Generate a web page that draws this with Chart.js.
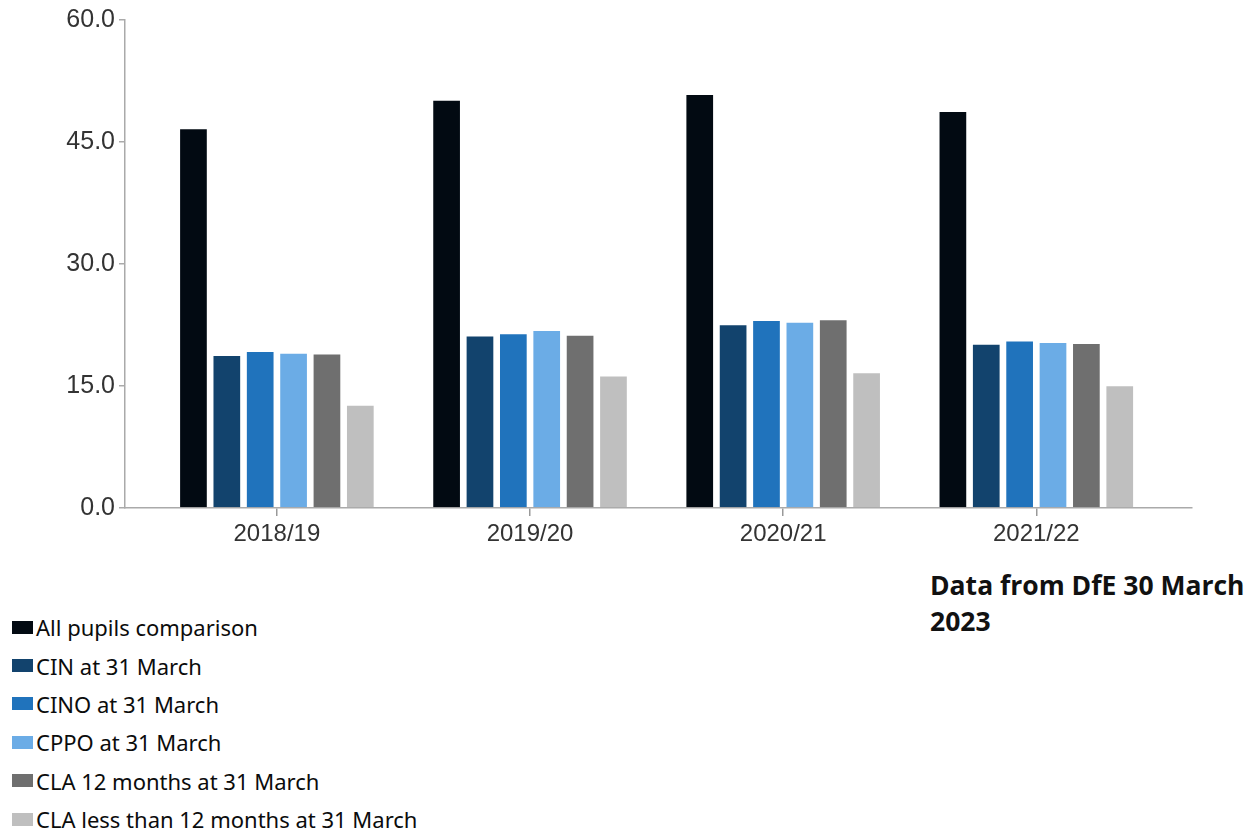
<!DOCTYPE html>
<html>
<head>
<meta charset="utf-8">
<script src="https://cdn.jsdelivr.net/npm/chart.js@4.4.1/dist/chart.umd.min.js"></script>
<style>
  html, body { margin: 0; padding: 0; background: #fff; }
  #wrap { position: relative; width: 1260px; height: 830px; overflow: hidden; }
  #chart-box { position: absolute; left: 0; top: 0; width: 1260px; height: 560px; }
  #legend { position: absolute; left: 0; top: 608px; font-family: "Noto Sans", sans-serif; font-size: 22px; color: #0b0c0c; }
  #legend .row { height: 38.4px; display: flex; align-items: center; white-space: nowrap; }
  #legend .box { width: 21px; height: 13px; margin-left: 12px; margin-right: 3px; }
  #note { position: absolute; left: 930px; top: 567px; font-family: "Open Sans", sans-serif; font-weight: bold; font-size: 26.5px; line-height: 36px; color: #111; }
</style>
</head>
<body>
<div id="wrap">
  <div id="chart-box"><canvas id="myChart"></canvas></div>
  <div id="legend"></div>
  <div id="note">Data from DfE 30 March<br>2023</div>
</div>
<script>
// school years on the x axis
const years = ["2018/19", "2019/20", "2020/21", "2021/22"];

const series_names = [
    "All pupils comparison",
    "CIN at 31 March",
    "CINO at 31 March",
    "CPPO at 31 March",
    "CLA 12 months at 31 March",
    "CLA less than 12 months at 31 March"
];

const all_pupils = [46.7, 50.2, 50.9, 48.8];
const cin = [18.8, 21.2, 22.6, 20.2];
const cino = [19.3, 21.5, 23.1, 20.6];
const cppo = [19.1, 21.9, 22.9, 20.4];
const cla_12 = [19.0, 21.3, 23.2, 20.3];
const cla_less = [12.7, 16.3, 16.7, 15.1];

const y_ticks = [0, 15, 30, 45, 60];

const colours = ["#020a12", "#12436d", "#2073bc", "#6bace6", "#6f6f6f", "#bfbfbf"];

const series_values = [all_pupils, cin, cino, cppo, cla_12, cla_less];

function toPoints(values) {
    return values.map(function (v, i) { return { x: i, y: v }; });
}

let datasets = [];
for (let i = 0; i < series_names.length; i++) {
    datasets.push({
        label: series_names[i],
        data: toPoints(series_values[i]),
        backgroundColor: colours[i],
        borderColor: "rgba(255,255,255,0.35)",
        borderWidth: 1,
        borderSkipped: "bottom"
    });
}

const xFont = { family: "'Liberation Sans', Arial, sans-serif", size: 24 };
const yFont = { family: "'Liberation Sans', Arial, sans-serif", size: 25 };

const ctx = document.getElementById("myChart").getContext("2d");
const myChart = new Chart(ctx, {
    type: "bar",
    data: { datasets: datasets },
    options: {
        responsive: true,
        maintainAspectRatio: false,
        animation: false,
        categoryPercentage: 0.791,
        barPercentage: 0.86,
        layout: { padding: { top: 20, right: 68, left: 0, bottom: 0 } },
        plugins: {
            legend: { display: false },
            tooltip: { enabled: false }
        },
        scales: {
            x: {
                type: "linear",
                min: -0.6,
                max: 3.615,
                offset: false,
                grid: { offset: false, drawOnChartArea: false, drawTicks: true, tickLength: 8, color: "#999", lineWidth: 1.5 },
                border: { display: true, color: "#aaa", width: 1.5 },
                ticks: {
                    stepSize: 1,
                    includeBounds: false,
                    padding: 4,
                    color: "#333",
                    font: xFont,
                    maxRotation: 0,
                    callback: function (v) { return years[v] !== undefined ? years[v] : ""; }
                },
                afterFit: function (scale) { scale.height = 52; }
            },
            y: {
                min: 0,
                max: 60,
                grid: { drawOnChartArea: false, drawTicks: true, tickLength: 6, color: "#aaa", lineWidth: 1.5 },
                border: { display: true, color: "#aaa", width: 1.5 },
                afterBuildTicks: function (scale) {
                    scale.ticks = y_ticks.map(function (v) { return { value: v }; });
                },
                ticks: {
                    padding: 4,
                    color: "#333",
                    font: yFont,
                    callback: function (v) { return Number(v).toFixed(1); }
                },
                afterFit: function (scale) { scale.width = 125; }
            }
        }
    }
});

// legend list under the chart, built from the chart's own legend items
const legendItems = myChart.options.plugins.legend.labels.generateLabels(myChart);
const legendDiv = document.getElementById("legend");
legendItems.forEach(function (item) {
    const row = document.createElement("div");
    row.className = "row";
    const box = document.createElement("span");
    box.className = "box";
    box.style.background = item.fillStyle;
    const label = document.createElement("span");
    label.textContent = item.text;
    row.appendChild(box);
    row.appendChild(label);
    legendDiv.appendChild(row);
});
</script>
</body>
</html>
